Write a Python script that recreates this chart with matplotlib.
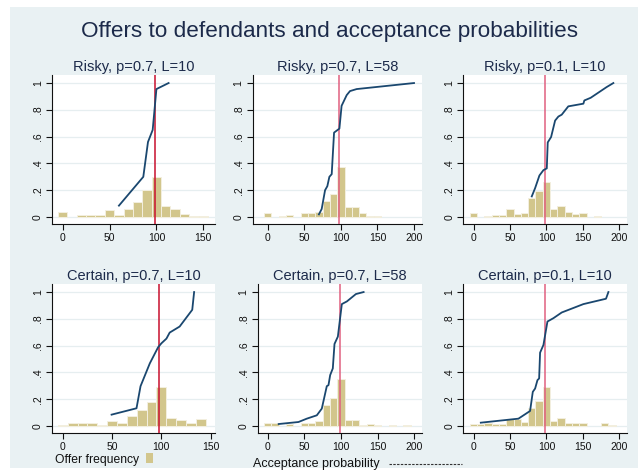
import numpy as np
import matplotlib
matplotlib.use("Agg")
import matplotlib.pyplot as plt
from matplotlib.patches import Rectangle
from matplotlib.lines import Line2D

plt.rcParams['font.family'] = ['Liberation Sans', 'DejaVu Sans']

title = "Offers to defendants and acceptance probabilities"
panel_titles = ["Risky, p=0.7, L=10", "Risky, p=0.7, L=58", "Risky, p=0.1, L=10",
                "Certain, p=0.7, L=10", "Certain, p=0.7, L=58", "Certain, p=0.1, L=10"]

bin_centers = list(range(0, 200, 10))
hist_p1 = [0.04, 0, 0.015, 0.015, 0.015, 0.055, 0.015, 0.06, 0.11, 0.205, 0.30, 0.085, 0.06, 0.02, 0.01, 0.01, 0, 0, 0, 0]
hist_p2 = [0.03, 0, 0.008, 0.015, 0, 0.032, 0.032, 0.04, 0.117, 0.175, 0.375, 0.075, 0.075, 0.03, 0.008, 0.008, 0, 0, 0, 0]
hist_p3 = [0.03, 0, 0.008, 0.012, 0.012, 0.06, 0.025, 0.032, 0.145, 0.195, 0.26, 0.06, 0.08, 0.037, 0.025, 0.032, 0, 0.008, 0, 0]
hist_p4 = [0.008, 0.02, 0.025, 0.025, 0.005, 0.038, 0.022, 0.072, 0.12, 0.183, 0.288, 0.06, 0.045, 0.025, 0.055, 0, 0, 0, 0, 0]
hist_p5 = [0.02, 0.02, 0, 0.015, 0, 0.025, 0.025, 0.04, 0.155, 0.2125, 0.35, 0.0475, 0.0475, 0.008, 0.018, 0.008, 0, 0.01, 0, 0.01]
hist_p6 = [0.0125, 0.0125, 0.02, 0.0125, 0.0125, 0.05, 0.05, 0.0325, 0.1325, 0.19, 0.2925, 0.04, 0.0625, 0.02, 0.0225, 0.02, 0, 0, 0.02, 0.01]

accept_x_p1 = [60, 86, 91, 96, 100, 113]
accept_y_p1 = [0.085, 0.30, 0.56, 0.65, 0.955, 1.0]
accept_x_p2 = [70, 73.8, 78.4, 81.5, 84.3, 87.5, 90.7, 98, 101, 108, 112.5, 121.6, 200]
accept_y_p2 = [0.02, 0.06, 0.20, 0.23, 0.30, 0.32, 0.63, 0.66, 0.83, 0.91, 0.94, 0.955, 1.0]
accept_x_p3 = [79.9, 84.5, 90.4, 95.9, 100.5, 101.8, 106.4, 111.9, 116.4, 121, 130, 150.7, 152, 160.7, 182.6, 191.8]
accept_y_p3 = [0.154, 0.216, 0.31, 0.35, 0.363, 0.557, 0.597, 0.72, 0.75, 0.764, 0.826, 0.846, 0.87, 0.89, 0.97, 1.0]
accept_x_p4 = [49.5, 74.8, 78.9, 88.3, 96.7, 100.1, 105.2, 108.5, 118.6, 131.4, 133.3]
accept_y_p4 = [0.085, 0.1325, 0.2975, 0.4675, 0.5875, 0.6175, 0.6525, 0.6975, 0.7425, 0.8675, 1.0]
accept_x_p5 = [15, 42, 53.3, 67, 73.8, 80.6, 82.9, 85.2, 88.8, 91.1, 95.7, 101.1, 108, 120.3, 130.8]
accept_y_p5 = [0.015, 0.03, 0.055, 0.08, 0.13, 0.2975, 0.305, 0.38, 0.43, 0.6125, 0.6675, 0.91, 0.93, 0.985, 1.0]
accept_x_p6 = [10, 61.6, 77.6, 81.3, 84.5, 87.7, 90, 91.3, 95.9, 101.4, 109.6, 121, 150.7, 181.7, 185]
accept_y_p6 = [0.025, 0.055, 0.1125, 0.255, 0.28, 0.3425, 0.355, 0.5475, 0.605, 0.78, 0.805, 0.8475, 0.91, 0.95, 1.0]

ref_offer = 98
xticks_150 = [0, 50, 100, 150]
xticks_200 = [0, 50, 100, 150, 200]
yticks = [0, 0.2, 0.4, 0.6, 0.8, 1.0]
ytick_labels = ["0", ".2", ".4", ".6", ".8", "1"]
legend_labels = ["Offer frequency", "Acceptance probability"]

hists = [hist_p1, hist_p2, hist_p3, hist_p4, hist_p5, hist_p6]
lines = [(accept_x_p1, accept_y_p1), (accept_x_p2, accept_y_p2), (accept_x_p3, accept_y_p3),
         (accept_x_p4, accept_y_p4), (accept_x_p5, accept_y_p5), (accept_x_p6, accept_y_p6)]
xticks_list = [xticks_150, xticks_200, xticks_200, xticks_150, xticks_200, xticks_200]

W, H = 638, 470
cols = [((52, 215), (-11.4, 162.5)), ((252.7, 421.7), (-20.5, 210.5)), ((463.3, 627), (-14, 210.5)),
        ((52, 215), (-11, 154.5)), ((257.7, 421.7), (-13.6, 210)), ((463.3, 627), (-14, 210.5))]
rows = [(75, 224), (75, 224), (75, 224), (284, 433), (284, 433), (284, 433)]
vcolors = ['#c8102e', '#e06080', '#e06080', '#c8102e', '#e06080', '#e06080']

fig = plt.figure(figsize=(W / 100, H / 100), dpi=100, facecolor='white')
bgcolor = '#e9f1f3'
fig.patches.append(Rectangle((10 / W, 2 / H), 628 / W, 461 / H, transform=fig.transFigure,
                             facecolor=bgcolor, edgecolor='none', zorder=-10))

title_color = '#1c2a4a'
bar_color = '#d2c68c'
line_color = '#1a476f'

for i in range(6):
    (l, r), xlim = cols[i]
    t, b = rows[i]
    ax = fig.add_axes([l / W, 1 - b / H, (r - l) / W, (b - t) / H])
    ax.set_facecolor('white')
    ax.set_xlim(*xlim)
    ax.set_ylim(-0.052, 1.06)
    for y in yticks:
        ax.axhline(y, color='#e6eef0', lw=0.9, zorder=0)
    xs = [c for c, h in zip(bin_centers, hists[i]) if h > 0]
    hs = [h for h in hists[i] if h > 0]
    ax.bar(xs, hs, width=10, color=bar_color, edgecolor='#f3efdf', linewidth=0.7, zorder=2)
    ax.axvline(ref_offer, color=vcolors[i], lw=1.1, zorder=3)
    ax.plot(lines[i][0], lines[i][1], color=line_color, lw=1.3, zorder=4)
    ax.set_xticks(xticks_list[i])
    ax.set_yticks(yticks)
    ax.set_yticklabels(ytick_labels, rotation=90, va='center')
    ax.tick_params(axis='both', labelsize=7.5, length=4, width=0.8, pad=2.5, colors='#111111')
    for s in ['top', 'right']:
        ax.spines[s].set_visible(False)
    for s in ['left', 'bottom']:
        ax.spines[s].set_linewidth(0.8)
        ax.spines[s].set_color('#111111')
    ax.set_title(panel_titles[i], fontsize=10.5, color=title_color, pad=3)

fig.text(330 / W, 1 - 32 / H, title, ha='center', va='center', fontsize=16.2, color=title_color)

fig.text(55 / W, 1 - 460 / H, legend_labels[0], ha='left', va='center', fontsize=8.7, color='#111111')
fig.patches.append(Rectangle((146 / W, 1 - 463 / H), 7 / W, 10 / H, transform=fig.transFigure,
                             facecolor=bar_color, edgecolor='none'))
fig.text(253 / W, 1 - 464 / H, legend_labels[1], ha='left', va='center', fontsize=9, color='#111111')
fig.lines.append(Line2D([389 / W, 462 / W], [1 - 464 / H, 1 - 464 / H], transform=fig.transFigure,
                        color='#333333', lw=0.8, dashes=(2.2, 1.2)))

fig.savefig('out.png', dpi=100, facecolor='white')
